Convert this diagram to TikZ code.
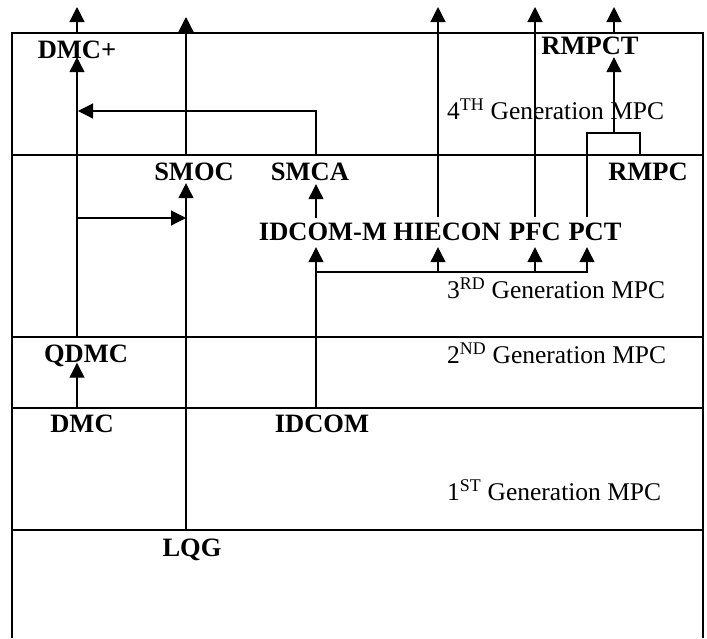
\documentclass[tikz,border=0pt]{standalone}
\usepackage{fontspec}
\setmainfont{Liberation Serif}
\usetikzlibrary{arrows.meta}
\begin{document}
\begin{tikzpicture}[x=1pt,y=-1pt,
  frame/.style={line width=1.6pt},
  conn/.style={line width=1.2pt},
  arr/.style={conn,-{Triangle[width=15pt,length=15pt]}},
  lbl/.style={inner sep=0pt,text height=17pt,text depth=0pt,font=\fontsize{26.5}{30}\selectfont\bfseries},
  gen/.style={inner sep=0pt,text height=17pt,text depth=0pt,anchor=west,font=\fontsize{25.5}{30}\selectfont}]
\useasboundingbox (0,0) rectangle (707,638);
% frame and generation bands
\draw[frame] (12,638) -- (12,33) -- (703,33) -- (703,638);
\foreach \yy in {155,337,408,530} \draw[frame] (12,\yy) -- (703,\yy);
% labels
\node[lbl] (DMCp) at (77,50) {DMC+};
\node[lbl] (RMPCT) at (590,46) {RMPCT};
\node[gen] (G4) at (447,111) {4\textsuperscript{TH} Generation MPC};
\node[lbl] (SMOC) at (194,172) {SMOC};
\node[lbl] (SMCA) at (310,172) {SMCA};
\node[lbl] (RMPC) at (648,172) {RMPC};
\node[lbl] (IDCOMM) at (323,232) {IDCOM-M};
\node[lbl] (HIECON) at (447,232) {HIECON};
\node[lbl] (PFC) at (535,232) {PFC};
\node[lbl] (PCT) at (595,232) {PCT};
\node[gen] (G3) at (447,290) {3\textsuperscript{RD} Generation MPC};
\node[lbl] (QDMC) at (86,354) {QDMC};
\node[gen] (G2) at (447,355) {2\textsuperscript{ND} Generation MPC};
\node[lbl] (DMC) at (82,424) {DMC};
\node[lbl] (IDCOM) at (322,424) {IDCOM};
\node[gen] (G1) at (447,492) {1\textsuperscript{ST} Generation MPC};
\node[lbl] (LQG) at (192,548) {LQG};
% free ends and junctions
\coordinate (t1) at (77,7);
\coordinate (t2) at (186,17);
\coordinate (t3) at (438,7);
\coordinate (t4) at (535,7);
\coordinate (t5) at (614,7);
\coordinate (b1) at (77,218);
\coordinate (b1e) at (186,218);
\coordinate (c4) at (78,111);
\coordinate (j) at (316,272);
\coordinate (brk) at (640,133);
\coordinate (brm) at (614,133);
% connectors
\draw[arr] ([xshift=-5pt,yshift=6.5pt]DMC.north) -- ([xshift=-9pt]QDMC.south);
\draw[arr] ([xshift=-9pt,yshift=7.5pt]QDMC.north) -- ([yshift=1.5pt]DMCp.south);
\draw[arr] ([yshift=8.5pt]DMCp.north) -- (t1);
\draw[arr] (b1) -- (b1e);
\draw[arr] ([xshift=-6pt,yshift=9.5pt]LQG.north) -- ([xshift=-8pt,yshift=-2.5pt]SMOC.south);
\draw[arr] ([xshift=-8pt,yshift=8.5pt]SMOC.north) -- (t2);
\draw[arr] ([xshift=6pt,yshift=8.5pt]SMCA.north) |- (c4);
\draw[arr] ([xshift=-7pt,yshift=5.5pt]IDCOMM.north) -- ([xshift=6pt,yshift=-3.5pt]SMCA.south);
\draw[arr] ([xshift=-6pt,yshift=6.5pt]IDCOM.north) -- ([xshift=-7pt,yshift=-6.5pt]IDCOMM.south);
\draw[arr] (j) -| ([xshift=-9pt,yshift=-6.5pt]HIECON.south);
\draw[arr] (j) -| ([yshift=-6.5pt]PFC.south);
\draw[arr] (j) -| ([xshift=-8pt,yshift=-6.5pt]PCT.south);
\draw[arr] ([xshift=-9pt,yshift=6.5pt]HIECON.north) -- (t3);
\draw[arr] ([yshift=6.5pt]PFC.north) -- (t4);
\draw[conn] ([xshift=-8pt,yshift=6.5pt]PCT.north) |- (brk) -- ([xshift=-8pt,yshift=8.5pt]RMPC.north);
\draw[arr] (brm) -- ([xshift=24pt,yshift=-2.5pt]RMPCT.south);
\draw[arr] ([xshift=24pt,yshift=4.5pt]RMPCT.north) -- (t5);
\end{tikzpicture}
\end{document}
